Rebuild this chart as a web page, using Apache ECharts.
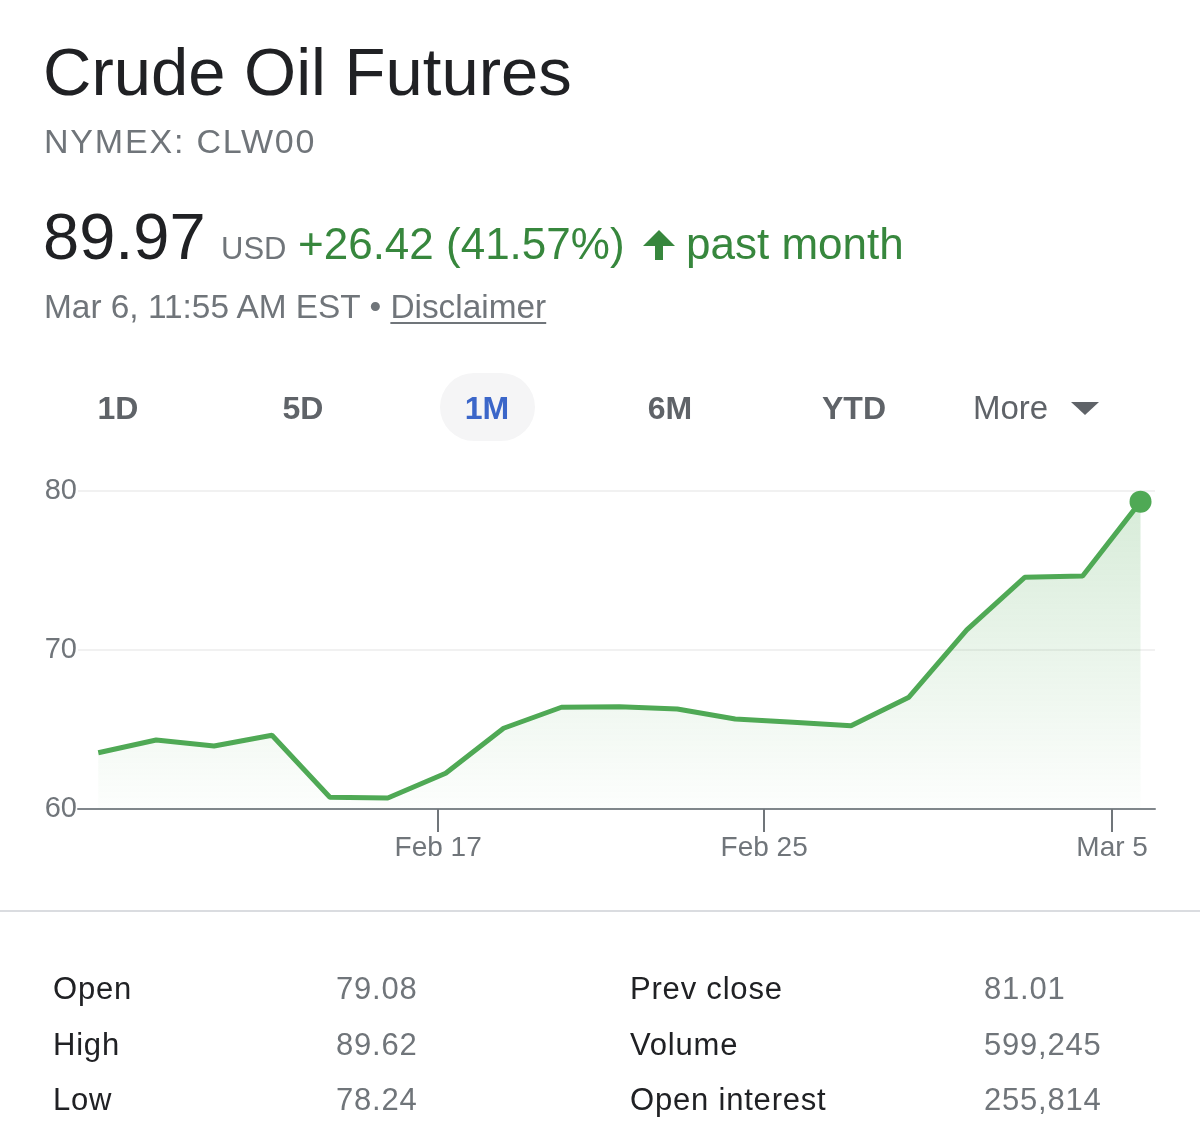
<!DOCTYPE html>
<html>
<head>
<meta charset="utf-8">
<script src="https://cdn.jsdelivr.net/npm/echarts@6/dist/echarts.min.js"></script>
<style>
  html, body { margin:0; padding:0; background:#fff; width:1200px; height:1137px; overflow:hidden; }
  body { position:relative; font-family:"Liberation Sans", Arial, sans-serif; }
  #chart { position:absolute; left:0; top:0; width:1200px; height:1137px; }
  .t { position:absolute; line-height:1; white-space:nowrap; }
  .btn { position:absolute; width:120px; text-align:center; line-height:1; font-size:32px; font-weight:700; color:#5f6368; }
  .lbl { color:#202124; }
  .val { color:#70757a; }
</style>
</head>
<body>
<div id="chart"></div>

<div class="t" style="left:43px;top:38px;font-size:67px;color:#202124;">Crude Oil Futures</div>
<div class="t" style="left:44px;top:124px;font-size:34px;color:#70757a;letter-spacing:1.8px;">NYMEX: CLW00</div>

<div class="t" style="left:43px;top:204px;font-size:65px;color:#202124;">89.97</div>
<div class="t" style="left:221px;top:233px;font-size:31px;color:#70757a;">USD</div>
<div class="t" style="left:298px;top:222px;font-size:44px;color:#37873d;">+26.42 (41.57%)</div>
<svg style="position:absolute;left:642px;top:229px;" width="34" height="32" viewBox="0 0 34 32">
  <polygon points="17,1 33,17 21,17 21,31 13,31 13,17 1,17" fill="#37873d"/>
</svg>
<div class="t" style="left:686px;top:222px;font-size:44px;color:#37873d;">past month</div>

<div class="t" style="left:44px;top:290px;font-size:33.4px;color:#70757a;">Mar 6, 11:55 AM EST &bull; <span style="text-decoration:underline;text-decoration-thickness:2px;text-underline-offset:4px;">Disclaimer</span></div>

<div style="position:absolute;left:440px;top:373px;width:95px;height:68px;border-radius:34px;background:#f5f5f6;"></div>
<div class="btn" style="left:58px;top:392px;">1D</div>
<div class="btn" style="left:243px;top:392px;">5D</div>
<div class="btn" style="left:427px;top:392px;color:#3b66c9;">1M</div>
<div class="btn" style="left:610px;top:392px;">6M</div>
<div class="btn" style="left:794px;top:392px;">YTD</div>
<div class="t" style="left:973px;top:391px;font-size:33px;color:#5f6368;">More</div>
<svg style="position:absolute;left:1071px;top:402px;" width="28" height="13" viewBox="0 0 28 13">
  <polygon points="0,0 28,0 14,13" fill="#5f6368"/>
</svg>

<div style="position:absolute;left:0;top:910px;width:1200px;height:2px;background:#dadce0;"></div>

<div class="t lbl" style="left:53px;top:973px;font-size:31px;letter-spacing:0.8px;">Open</div>
<div class="t lbl" style="left:53px;top:1029px;font-size:31px;letter-spacing:0.8px;">High</div>
<div class="t lbl" style="left:53px;top:1084px;font-size:31px;letter-spacing:0.8px;">Low</div>
<div class="t val" style="left:336px;top:973px;font-size:31px;letter-spacing:0.8px;">79.08</div>
<div class="t val" style="left:336px;top:1029px;font-size:31px;letter-spacing:0.8px;">89.62</div>
<div class="t val" style="left:336px;top:1084px;font-size:31px;letter-spacing:0.8px;">78.24</div>
<div class="t lbl" style="left:630px;top:973px;font-size:31px;letter-spacing:0.8px;">Prev close</div>
<div class="t lbl" style="left:630px;top:1029px;font-size:31px;letter-spacing:0.8px;">Volume</div>
<div class="t lbl" style="left:630px;top:1084px;font-size:31px;letter-spacing:0.8px;">Open interest</div>
<div class="t val" style="left:984px;top:973px;font-size:31px;letter-spacing:0.8px;">81.01</div>
<div class="t val" style="left:984px;top:1029px;font-size:31px;letter-spacing:0.8px;">599,245</div>
<div class="t val" style="left:984px;top:1084px;font-size:31px;letter-spacing:0.8px;">255,814</div>

<script>
// Price series (one point per trading session, past month)
var prices = [63.54, 64.34, 63.96, 64.64, 60.74, 60.69, 62.25, 65.08, 66.40, 66.43,
              66.29, 65.66, 65.45, 65.24, 67.03, 71.26, 74.57, 74.65, 79.33];
// Date ticks, located in session-index units
var tickPositions = [5.87, 11.50, 17.51];
var tickLabels = ['Feb 17', 'Feb 25', 'Mar 5'];
// Price axis ticks
var yTicks = [60, 70, 80];

var seriesData = prices.map(function (v, i) { return [i, v]; });
var lastPoint = [seriesData[seriesData.length - 1]];

var chart = echarts.init(document.getElementById('chart'), null, { renderer: 'canvas' });
chart.setOption({
  animation: false,
  backgroundColor: 'transparent',
  textStyle: { fontFamily: 'Liberation Sans, Arial, sans-serif' },
  grid: { left: 78, right: 45, top: 491, bottom: 328, containLabel: false },
  xAxis: {
    type: 'value',
    min: -0.35,
    max: prices.length - 1 + 0.25,
    axisLine: { show: true, lineStyle: { color: '#80868b', width: 2 } },
    axisTick: { show: true, customValues: tickPositions, length: 23, lineStyle: { color: '#70757a', width: 2 } },
    axisLabel: {
      show: true,
      customValues: tickPositions,
      margin: 25,
      fontSize: 28,
      color: '#70757a',
      formatter: function (v) {
        var best = 0, d = Infinity;
        for (var i = 0; i < tickPositions.length; i++) {
          var dd = Math.abs(tickPositions[i] - v);
          if (dd < d) { d = dd; best = i; }
        }
        return tickLabels[best];
      }
    },
    splitLine: { show: false }
  },
  yAxis: {
    type: 'value',
    min: yTicks[0],
    max: yTicks[yTicks.length - 1],
    interval: yTicks[1] - yTicks[0],
    axisLine: { show: false },
    axisTick: { show: false },
    axisLabel: { margin: 1, fontSize: 29, color: '#70757a' },
    splitLine: { show: true, lineStyle: { color: '#f1f1f1', width: 2 } }
  },
  series: [
    {
      type: 'line',
      data: seriesData,
      symbol: 'none',
      lineStyle: { color: '#4fa955', width: 5 },
      areaStyle: {
        origin: 'start',
        color: new echarts.graphic.LinearGradient(0, 0, 0, 1, [
          { offset: 0, color: 'rgba(79,169,85,0.32)' },
          { offset: 1, color: 'rgba(79,169,85,0.02)' }
        ])
      },
      z: 2
    },
    {
      type: 'scatter',
      data: lastPoint,
      symbol: 'circle',
      symbolSize: 22,
      itemStyle: { color: '#4fa955', opacity: 1 },
      z: 3
    }
  ]
});
</script>
</body>
</html>
